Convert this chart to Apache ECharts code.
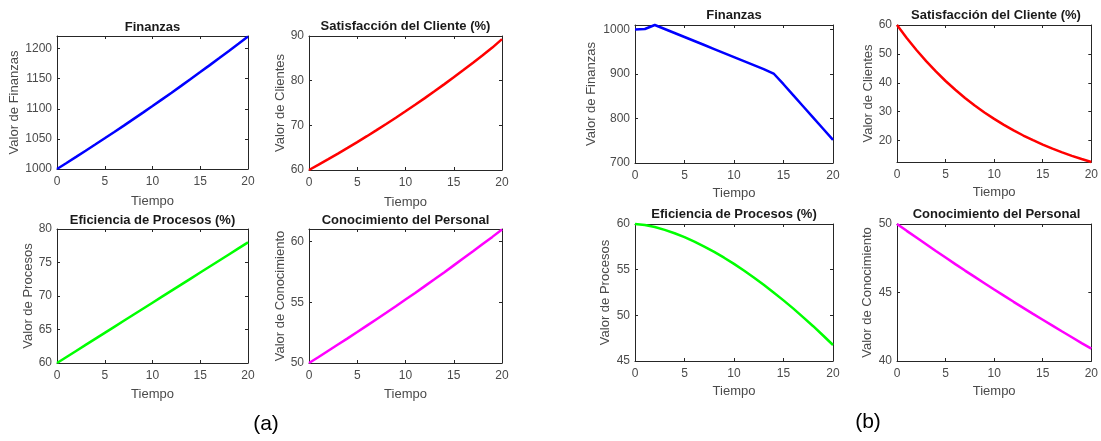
<!DOCTYPE html>
<html>
<head>
<meta charset="utf-8">
<script src="https://cdn.jsdelivr.net/npm/echarts@6/dist/echarts.min.js"></script>
<style>
  html, body { margin: 0; padding: 0; background: #ffffff; }
  #chart { width: 1101px; height: 441px; }
</style>
</head>
<body>
<div id="chart"></div>
<script>
// Time steps shared by every subplot
const tiempo = [0, 1, 2, 3, 4, 5, 6, 7, 8, 9, 10, 11, 12, 13, 14, 15, 16, 17, 18, 19, 20];
const tiempoTicks = [0, 5, 10, 15, 20];

// Scenario (a): growth
const finanzasA = [1000, 1010, 1020.1, 1030.3, 1040.6, 1051.0, 1061.5, 1072.1, 1082.9, 1093.7, 1104.6,
                   1115.7, 1126.8, 1138.1, 1149.5, 1161.0, 1172.6, 1184.3, 1196.1, 1208.1, 1220.2];
const clientesA = [60, 61.2, 62.42, 63.67, 64.95, 66.24, 67.57, 68.92, 70.30, 71.70, 73.14,
                   74.60, 76.09, 77.61, 79.17, 80.75, 82.37, 84.01, 85.69, 87.41, 89.3];
const procesosA = [60, 60.9, 61.8, 62.7, 63.6, 64.5, 65.4, 66.3, 67.2, 68.1, 69.0,
                   69.9, 70.8, 71.7, 72.6, 73.5, 74.4, 75.3, 76.2, 77.1, 78.0];
const conocimientoA = [50, 50.5, 51.01, 51.52, 52.03, 52.55, 53.08, 53.61, 54.14, 54.68, 55.23,
                       55.78, 56.34, 56.90, 57.47, 58.05, 58.63, 59.21, 59.81, 60.40, 61.01];

// Scenario (b): decline
const finanzasB = [1000, 1001, 1010, 1001, 992, 983, 974, 965, 956, 947, 938,
                   929, 920, 911, 901, 877, 852, 827, 802, 777, 752];
const clientesB = [60, 55.5, 51.34, 47.49, 43.93, 40.63, 37.59, 34.77, 32.16, 29.75, 27.52,
                   25.45, 23.54, 21.78, 20.15, 18.63, 17.24, 15.94, 14.75, 13.64, 12.62];
const procesosB = [60, 59.89, 59.67, 59.36, 58.99, 58.56, 58.07, 57.53, 56.94, 56.31, 55.63,
                   54.91, 54.15, 53.35, 52.51, 51.64, 50.73, 49.78, 48.81, 47.79, 46.75];
const conocimientoB = [50, 49.5, 49.01, 48.52, 48.03, 47.55, 47.07, 46.60, 46.14, 45.68, 45.22,
                       44.77, 44.32, 43.88, 43.44, 43.01, 42.58, 42.15, 41.73, 41.31, 40.90];

// Y tick labels per subplot
const ticksFinanzasA = [1000, 1050, 1100, 1150, 1200];
const ticksClientesA = [60, 70, 80, 90];
const ticksProcesosA = [60, 65, 70, 75, 80];
const ticksConocimientoA = [50, 55, 60];
const ticksFinanzasB = [700, 800, 900, 1000];
const ticksClientesB = [20, 30, 40, 50, 60];
const ticksProcesosB = [45, 50, 55, 60];
const ticksConocimientoB = [40, 45, 50];

// Subplot titles and axis names
const titulos = ['Finanzas', 'Satisfacción del Cliente (%)', 'Eficiencia de Procesos (%)', 'Conocimiento del Personal'];
const nombresY = ['Valor de Finanzas', 'Valor de Clientes', 'Valor de Procesos', 'Valor de Conocimiento'];
const nombreX = 'Tiempo';
const etiquetasPanel = ['(a)', '(b)'];

const FONT = '"Liberation Sans", Arial, Helvetica, sans-serif';
const AXIS_COLOR = '#262626';
const TEXT_GRAY = '#4a4a4a';

// Layout of the eight subplots: [left, top, width, height]
const panels = [
  { t: 0, y: 0, data: finanzasA,     color: '#0000ff', box: [57, 36, 191, 133],  min: 1000, max: 1221,  ticks: ticksFinanzasA,     gapY: 35, gapX: 26, titleTop: 21 },
  { t: 1, y: 1, data: clientesA,     color: '#ff0000', box: [309, 36, 193, 134], min: 60,   max: 90,    ticks: ticksClientesA,     gapY: 20, gapX: 26, titleTop: 20 },
  { t: 2, y: 2, data: procesosA,     color: '#00ff00', box: [57, 229, 191, 134], min: 60,   max: 80,    ticks: ticksProcesosA,     gapY: 22, gapX: 25, titleTop: 214 },
  { t: 3, y: 3, data: conocimientoA, color: '#ff00ff', box: [309, 229, 193, 134],min: 50,   max: 61.05, ticks: ticksConocimientoA, gapY: 21, gapX: 25, titleTop: 214 },
  { t: 0, y: 0, data: finanzasB,     color: '#0000ff', box: [635, 25, 198, 138], min: 700,  max: 1010,  ticks: ticksFinanzasB,     gapY: 37, gapX: 24, titleTop: 9 },
  { t: 1, y: 1, data: clientesB,     color: '#ff0000', box: [897, 25, 198, 137], min: 12.62,max: 60,    ticks: ticksClientesB,     gapY: 22, gapX: 24, titleTop: 9 },
  { t: 2, y: 2, data: procesosB,     color: '#00ff00', box: [635, 224, 198, 137],min: 45,   max: 60,    ticks: ticksProcesosB,     gapY: 23, gapX: 24, titleTop: 208 },
  { t: 3, y: 3, data: conocimientoB, color: '#ff00ff', box: [897, 224, 199, 137],min: 40,   max: 50,    ticks: ticksConocimientoB, gapY: 23, gapX: 24, titleTop: 208 }
];

const plain = v => String(v);
const grid = [], xAxis = [], yAxis = [], series = [], title = [];

panels.forEach((p, i) => {
  const [l, tp, w, h] = p.box;
  grid.push({ left: l, top: tp, width: w, height: h, show: true, backgroundColor: '#ffffff', borderWidth: 0 });

  const lineStyle = { color: AXIS_COLOR, width: 1 };
  const tick = { show: true, inside: true, length: 3, lineStyle: { color: AXIS_COLOR } };

  // bottom axis with labels
  xAxis.push({
    gridIndex: i, type: 'value', min: 0, max: 20, position: 'bottom',
    name: nombreX, nameLocation: 'middle', nameGap: p.gapX,
    nameTextStyle: { fontFamily: FONT, fontSize: 13, color: TEXT_GRAY },
    axisLine: { show: true, onZero: false, lineStyle },
    axisTick: Object.assign({ customValues: tiempoTicks }, tick),
    axisLabel: { customValues: tiempoTicks, formatter: plain, fontFamily: FONT, fontSize: 12, color: TEXT_GRAY, margin: 7 },
    splitLine: { show: false }
  });
  // top axis: box edge with ticks
  xAxis.push({
    gridIndex: i, type: 'value', min: 0, max: 20, position: 'top',
    axisLine: { show: true, onZero: false, lineStyle },
    axisTick: Object.assign({ customValues: tiempoTicks }, tick),
    axisLabel: { show: false }, splitLine: { show: false }
  });
  // left axis with labels
  yAxis.push({
    gridIndex: i, type: 'value', min: p.min, max: p.max, position: 'left',
    name: nombresY[p.y], nameLocation: 'middle', nameGap: p.gapY, nameRotate: 90,
    nameTextStyle: { fontFamily: FONT, fontSize: 13, color: TEXT_GRAY },
    axisLine: { show: true, onZero: false, lineStyle },
    axisTick: Object.assign({ customValues: p.ticks }, tick),
    axisLabel: { customValues: p.ticks, formatter: plain, fontFamily: FONT, fontSize: 12, color: TEXT_GRAY, margin: 5 },
    splitLine: { show: false }
  });
  // right axis: box edge with ticks
  yAxis.push({
    gridIndex: i, type: 'value', min: p.min, max: p.max, position: 'right',
    axisLine: { show: true, onZero: false, lineStyle },
    axisTick: Object.assign({ customValues: p.ticks }, tick),
    axisLabel: { show: false }, splitLine: { show: false }
  });

  series.push({
    type: 'line', xAxisIndex: 2 * i, yAxisIndex: 2 * i,
    data: tiempo.map((tv, k) => [tv, p.data[k]]),
    showSymbol: false, smooth: false, clip: false,
    lineStyle: { color: p.color, width: 2.5 },
    itemStyle: { color: p.color }
  });

  title.push({
    text: titulos[p.t], left: l + w / 2, top: p.titleTop, textAlign: 'center', padding: 0,
    textStyle: { fontFamily: FONT, fontSize: 13, fontWeight: 'bold', color: '#1a1a1a' }
  });
});

// Panel letters
title.push({ text: etiquetasPanel[0], left: 266, top: 414, textAlign: 'center', padding: 0,
  textStyle: { fontFamily: FONT, fontSize: 21, fontWeight: 'normal', color: '#000000' } });
title.push({ text: etiquetasPanel[1], left: 868, top: 412, textAlign: 'center', padding: 0,
  textStyle: { fontFamily: FONT, fontSize: 21, fontWeight: 'normal', color: '#000000' } });

const chart = echarts.init(document.getElementById('chart'), null, { renderer: 'canvas' });
chart.setOption({
  animation: false,
  backgroundColor: '#ffffff',
  title, grid, xAxis, yAxis, series
});
</script>
</body>
</html>
